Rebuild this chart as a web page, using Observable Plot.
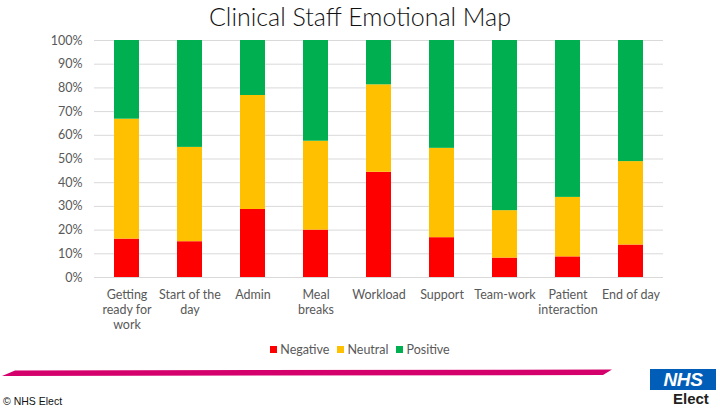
<!DOCTYPE html>
<html>
<head>
<meta charset="utf-8">
<script src="https://cdn.jsdelivr.net/npm/d3@7"></script>
<script src="https://cdn.jsdelivr.net/npm/@observablehq/plot@0.6"></script>
<style>
  html, body { margin: 0; padding: 0; background: #fff; }
  #wrap { position: relative; width: 720px; height: 409px; overflow: hidden; font-family: Lato, "Open Sans", sans-serif; }
  #title { position: absolute; left: 0; width: 720px; top: 1px; text-align: center; font-size: 25px; font-weight: 300; color: #111; }
  #chart { position: absolute; left: 0; top: 30px; }
  #legend { position: absolute; left: 0; width: 720px; top: 342px; text-align: center; font-size: 12.5px; color: #595959; }
  #legend span.item { display: inline-block; margin: 0 4px; }
  #legend span.sw { display: inline-block; width: 7px; height: 7px; margin-right: 3px; vertical-align: 1px; }
  #copy { position: absolute; left: 3px; top: 395px; font-family: "Liberation Sans", Arial, sans-serif; font-size: 10.5px; color: #111; }
  #nhs { position: absolute; left: 650px; top: 369px; width: 66px; height: 21px; background: #005EB8; color: #fff; font-family: "Liberation Sans", Arial, sans-serif; font-weight: bold; font-style: italic; font-size: 19px; line-height: 21px; text-align: center; letter-spacing: -0.3px; }
  #elect { position: absolute; left: 673px; top: 390px; font-family: "Liberation Sans", Arial, sans-serif; font-weight: bold; font-size: 15px; color: #231f20; }
  #bar { position: absolute; left: 0; top: 0; }
</style>
</head>
<body>
<div id="wrap">
  <div id="title">Clinical Staff Emotional Map</div>
  <div id="chart"></div>
  <div id="legend"></div>
  <svg id="bar" width="720" height="409"><polygon points="2,376 15,370.5 612,369.5 603,375" fill="#d4006c"/></svg>
  <div id="copy">© NHS Elect</div>
  <div id="nhs">NHS</div>
  <div id="elect">Elect</div>
</div>
<script>
const categories = ["Getting ready for work", "Start of the day", "Admin", "Meal breaks", "Workload", "Support", "Team-work", "Patient interaction", "End of day"];
const tickLabels = ["Getting\nready for\nwork", "Start of the\nday", "Admin", "Meal\nbreaks", "Workload", "Support", "Team-work", "Patient\ninteraction", "End of day"];
const seriesNames = ["Negative", "Neutral", "Positive"];
const negative = [16.2, 15.1, 28.7, 20.0, 44.4, 16.8, 8.2, 8.7, 13.7];
const neutral  = [50.6, 39.8, 48.1, 37.5, 36.9, 37.7, 20.0, 25.1, 35.2];
const positive = [33.2, 45.1, 23.2, 42.5, 18.7, 45.5, 71.8, 66.2, 51.1];
const colors = ["#FF0000", "#FFC000", "#00B050"];
const yTicks = [0, 0.1, 0.2, 0.3, 0.4, 0.5, 0.6, 0.7, 0.8, 0.9, 1];

const seriesValues = [negative, neutral, positive];
const data = [];
seriesNames.forEach((s, si) => {
  categories.forEach((c, ci) => {
    data.push({category: c, series: s, value: seriesValues[si][ci] / 100});
  });
});
const labelRows = categories.map((c, i) => ({category: c, label: tickLabels[i]}));

const chart = Plot.plot({
  width: 720,
  height: 320,
  marginTop: 10,
  marginBottom: 73,
  marginLeft: 94,
  marginRight: 57,
  style: {fontFamily: "Lato, 'Open Sans', sans-serif", fontSize: "12.5px", color: "#595959", background: "transparent"},
  x: {domain: categories, paddingInner: 0.6, paddingOuter: 0.3, axis: null},
  y: {domain: [0, 1], ticks: yTicks, tickFormat: d3.format(".0%"), tickSize: 0, tickPadding: 12, label: null},
  color: {domain: seriesNames, range: colors},
  marks: [
    Plot.ruleY(yTicks, {stroke: "#d9d9d9", strokeWidth: 1}),
    Plot.barY(data, {x: "category", y: "value", fill: "series", order: seriesNames}),
    Plot.text(labelRows, {x: "category", text: "label", frameAnchor: "bottom", lineAnchor: "top", dy: 11, lineHeight: 1.2, fill: "#595959", fontSize: 12.5})
  ]
});
document.getElementById("chart").appendChild(chart);

const legend = document.getElementById("legend");
seriesNames.forEach((s, i) => {
  const item = document.createElement("span");
  item.className = "item";
  const sw = document.createElement("span");
  sw.className = "sw";
  sw.style.background = colors[i];
  item.appendChild(sw);
  item.appendChild(document.createTextNode(s));
  legend.appendChild(item);
});
</script>
</body>
</html>
